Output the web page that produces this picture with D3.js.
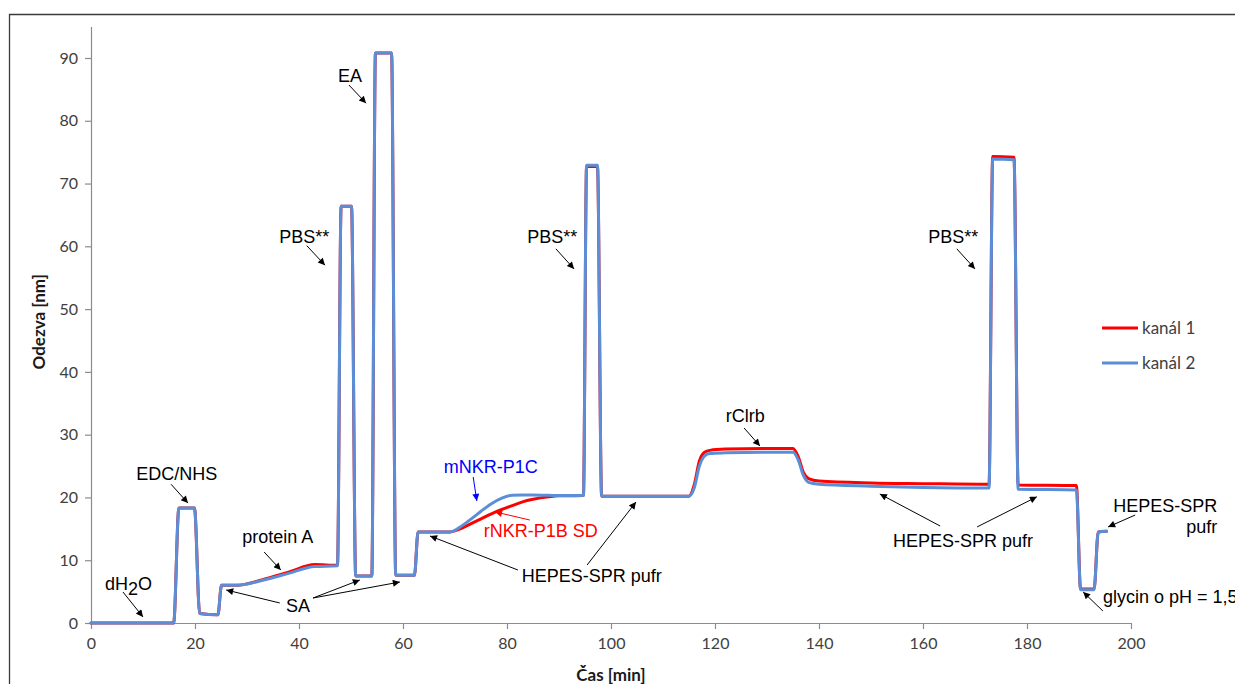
<!DOCTYPE html>
<html>
<head>
<meta charset="utf-8">
<script src="https://cdn.jsdelivr.net/npm/d3@7"></script>
<style>
  html, body { margin: 0; padding: 0; background: #fff; }
  svg { display: block; }
</style>
</head>
<body>
<svg id="chart" width="1235" height="684"></svg>
<script>
// ---------- DATA ----------
const time = [0, 15.9, 16.9, 19.9, 20.9, 24.4, 25.1, 28, 33, 38, 43, 47.4, 48.1, 50.1, 50.9, 54.0, 54.7, 57.8, 58.6, 62.2, 62.9,
  69, 71, 73, 75, 77, 79, 81, 83, 85, 88, 90, 94.7, 95.3, 97.4, 98.2, 115, 116, 117, 118, 119, 122, 130, 135, 136, 137, 138,
  140, 150, 160, 172.7, 173.4, 177.5, 178.3, 189.5, 190.3, 192.9, 193.7, 195.3];
const kanal1 = [0, 0, 18.3, 18.3, 1.5, 1.3, 6.0, 6.0, 6.9, 8.1, 9.3, 9.2, 66.4, 66.4, 7.5, 7.5, 90.8, 90.8, 7.6, 7.6, 14.5,
  14.5, 15.0, 15.8, 16.6, 17.4, 18.1, 18.7, 19.3, 19.7, 20.1, 20.25, 20.3, 72.7, 72.7, 20.2, 20.2, 22.0, 25.8, 27.2, 27.5, 27.7,
  27.8, 27.8, 26.5, 24.0, 23.0, 22.6, 22.3, 22.2, 22.1, 74.3, 74.2, 22.0, 21.9, 5.4, 5.4, 14.5, 14.6];
const kanal2 = [0, 0, 18.3, 18.3, 1.5, 1.3, 6.0, 6.0, 6.8, 7.9, 9.0, 9.1, 66.4, 66.4, 7.5, 7.5, 90.8, 90.8, 7.6, 7.6, 14.5,
  14.5, 15.3, 16.5, 17.8, 19.0, 19.9, 20.35, 20.4, 20.4, 20.35, 20.3, 20.3, 72.9, 72.9, 20.2, 20.2, 21.5, 25.0, 26.6, 27.0, 27.1,
  27.2, 27.2, 26.0, 23.5, 22.4, 22.1, 21.8, 21.6, 21.5, 73.9, 73.8, 21.3, 21.2, 5.3, 5.3, 14.5, 14.6];
const seriesNames = ["kanál 1", "kanál 2"];
const xTicks = [0, 20, 40, 60, 80, 100, 120, 140, 160, 180, 200];
const yTicks = [0, 10, 20, 30, 40, 50, 60, 70, 80, 90];
const xTitle = "Čas [min]";
const yTitle = "Odezva [nm]";

// annotation labels (data coordinates)
const labelTexts = ["EDC/NHS", "protein A", "SA", "EA", "PBS**", "PBS**", "PBS**", "mNKR-P1C", "rNKR-P1B SD",
  "HEPES-SPR pufr", "HEPES-SPR pufr", "HEPES-SPR", "pufr", "glycin o pH = 1,5", "rClrb"];
const labelT = [16.5, 35.9, 39.8, 49.8, 41.0, 88.7, 165.8, 76.9, 86.5, 96.3, 167.7, 216.6, 216.6, 194.6, 125.8];
const labelV = [22.8, 12.7, 1.75, 86.2, 60.5, 60.5, 60.5, 23.9, 13.7, 6.53, 12.1, 17.7, 14.3, 3.19, 32.0];
const labelKind = ["k", "k", "k", "k", "k", "k", "k", "b", "r", "k", "k", "kR", "kR", "kL", "k"];
// arrows: from (t,v) to (t,v)
const arrowFrom = [[6.15, 4.94], [15.4, 22.1], [33.3, 11.3], [36.3, 3.19], [42.7, 3.98], [42.7, 3.98], [49.6, 85.7],
  [41.5, 60.1], [89.4, 59.6], [166.5, 59.6], [73.5, 23.26], [84.4, 16.4], [82.1, 8.44], [95.4, 9.24], [163.3, 15.45],
  [170.4, 15.3], [200.8, 17.2], [194.6, 1.91], [125.6, 31.06]];
const arrowTo = [[10.0, 0.96], [18.65, 19.1], [36.5, 8.44], [26.0, 5.26], [51.7, 6.85], [59.4, 6.53], [52.9, 82.8],
  [45.0, 57.0], [92.9, 56.4], [170.0, 56.4], [74.2, 19.43], [77.7, 17.7], [65.2, 13.86], [104.8, 19.27], [151.7, 20.55],
  [181.9, 20.1], [195.6, 15.3], [190.8, 4.94], [128.65, 28.19]];
const arrowKind = ["k", "k", "k", "k", "k", "k", "k", "k", "k", "k", "b", "r", "k", "k", "k", "k", "k", "k", "k"];

// ---------- LAYOUT ----------
const svg = d3.select("#chart");
const x = d3.scaleLinear().domain([0, 200]).range([91, 1131]);
const y = d3.scaleLinear().domain([0, 95]).range([623, 26.6]);
const colors = { "kanál 1": "#ff0000", "kanál 2": "#5a8fd8" };
const kindColor = { k: "#000000", b: "#0000ff", r: "#ff0000" };
const annFont = "'Liberation Sans', Arial, sans-serif";
const tickFont = "Lato, 'Open Sans', sans-serif";

// outer frame
svg.append("path")
  .attr("d", "M9.5,690 L9.5,14.5 L1240,14.5")
  .attr("fill", "none").attr("stroke", "#3a3a3a").attr("stroke-width", 1.3);

// axes
const gx = svg.append("g").attr("transform", "translate(0,623)")
  .call(d3.axisBottom(x).tickValues(xTicks).tickSizeInner(6).tickSizeOuter(0).tickPadding(6));
const gy = svg.append("g").attr("transform", "translate(91,0)")
  .call(d3.axisLeft(y).tickValues(yTicks).tickSizeInner(6).tickSizeOuter(0).tickPadding(7));
[gx, gy].forEach(g => {
  g.select(".domain").attr("stroke", "#8c8c8c").attr("stroke-width", 1.2);
  g.selectAll(".tick line").attr("stroke", "#8c8c8c").attr("stroke-width", 1.2);
  g.selectAll(".tick text").attr("fill", "#404040").style("font-family", tickFont).style("font-size", "16px");
});
gx.selectAll(".tick text").attr("dy", "0.85em");

// axis titles
svg.append("text").attr("x", (x(0) + x(200)) / 2).attr("y", 681).attr("text-anchor", "middle")
  .style("font-family", tickFont).style("font-size", "17px").style("font-weight", "bold").attr("fill", "#1a1a1a")
  .text(xTitle);
svg.append("text").attr("transform", `translate(45,${(y(0) + y(95)) / 2 - 3}) rotate(-90)`).attr("text-anchor", "middle")
  .style("font-family", tickFont).style("font-size", "17px").style("font-weight", "bold").attr("fill", "#1a1a1a")
  .text(yTitle);

// series
const series = [
  { name: seriesNames[0], values: kanal1 },
  { name: seriesNames[1], values: kanal2 }
];
const line = d3.line()
  .x((d, i) => x(time[i]))
  .y(d => y(d))
  .curve(d3.curveMonotoneX);
svg.append("g").selectAll("path").data(series).join("path")
  .attr("d", s => line(s.values))
  .attr("fill", "none")
  .attr("stroke", s => colors[s.name])
  .attr("stroke-width", 3)
  .attr("stroke-linejoin", "round")
  .attr("stroke-linecap", "round");

// legend
const legend = svg.append("g");
seriesNames.forEach((n, i) => {
  const ly = 328 + i * 35;
  legend.append("line").attr("x1", 1102).attr("x2", 1138).attr("y1", ly).attr("y2", ly)
    .attr("stroke", colors[n]).attr("stroke-width", 3);
  legend.append("text").attr("x", 1142).attr("y", ly + 6).attr("fill", "#404040")
    .style("font-family", tickFont).style("font-size", "17px").text(n);
});

// arrow markers
const defs = svg.append("defs");
Object.entries(kindColor).forEach(([k, c]) => {
  defs.append("marker").attr("id", "arr-" + k).attr("viewBox", "0 0 10 10").attr("refX", 10).attr("refY", 5)
    .attr("markerWidth", 9).attr("markerHeight", 7).attr("markerUnits", "userSpaceOnUse").attr("orient", "auto")
    .append("path").attr("d", "M0,0 L10,5 L0,10 Z").attr("fill", c);
});

// arrows
const ann = svg.append("g");
arrowFrom.forEach((f, i) => {
  const k = arrowKind[i];
  ann.append("line")
    .attr("x1", x(f[0])).attr("y1", y(f[1]))
    .attr("x2", x(arrowTo[i][0])).attr("y2", y(arrowTo[i][1]))
    .attr("stroke", kindColor[k]).attr("stroke-width", 1)
    .attr("marker-end", `url(#arr-${k})`);
});

// labels
labelTexts.forEach((t, i) => {
  const kind = labelKind[i];
  const col = kindColor[kind[0]];
  const anchor = kind === "kR" ? "end" : kind === "kL" ? "start" : "middle";
  ann.append("text").attr("x", x(labelT[i])).attr("y", y(labelV[i]))
    .attr("text-anchor", anchor).attr("fill", col)
    .style("font-family", annFont).style("font-size", "18px").text(t);
});

// dH2O with subscript
const dh = ann.append("text").attr("x", x(2.7)).attr("y", y(5.26)).attr("fill", "#000")
  .style("font-family", annFont).style("font-size", "18px");
dh.append("tspan").text("dH");
dh.append("tspan").attr("dy", 5).text("2");
dh.append("tspan").attr("dy", -5).text("O");
</script>
</body>
</html>
